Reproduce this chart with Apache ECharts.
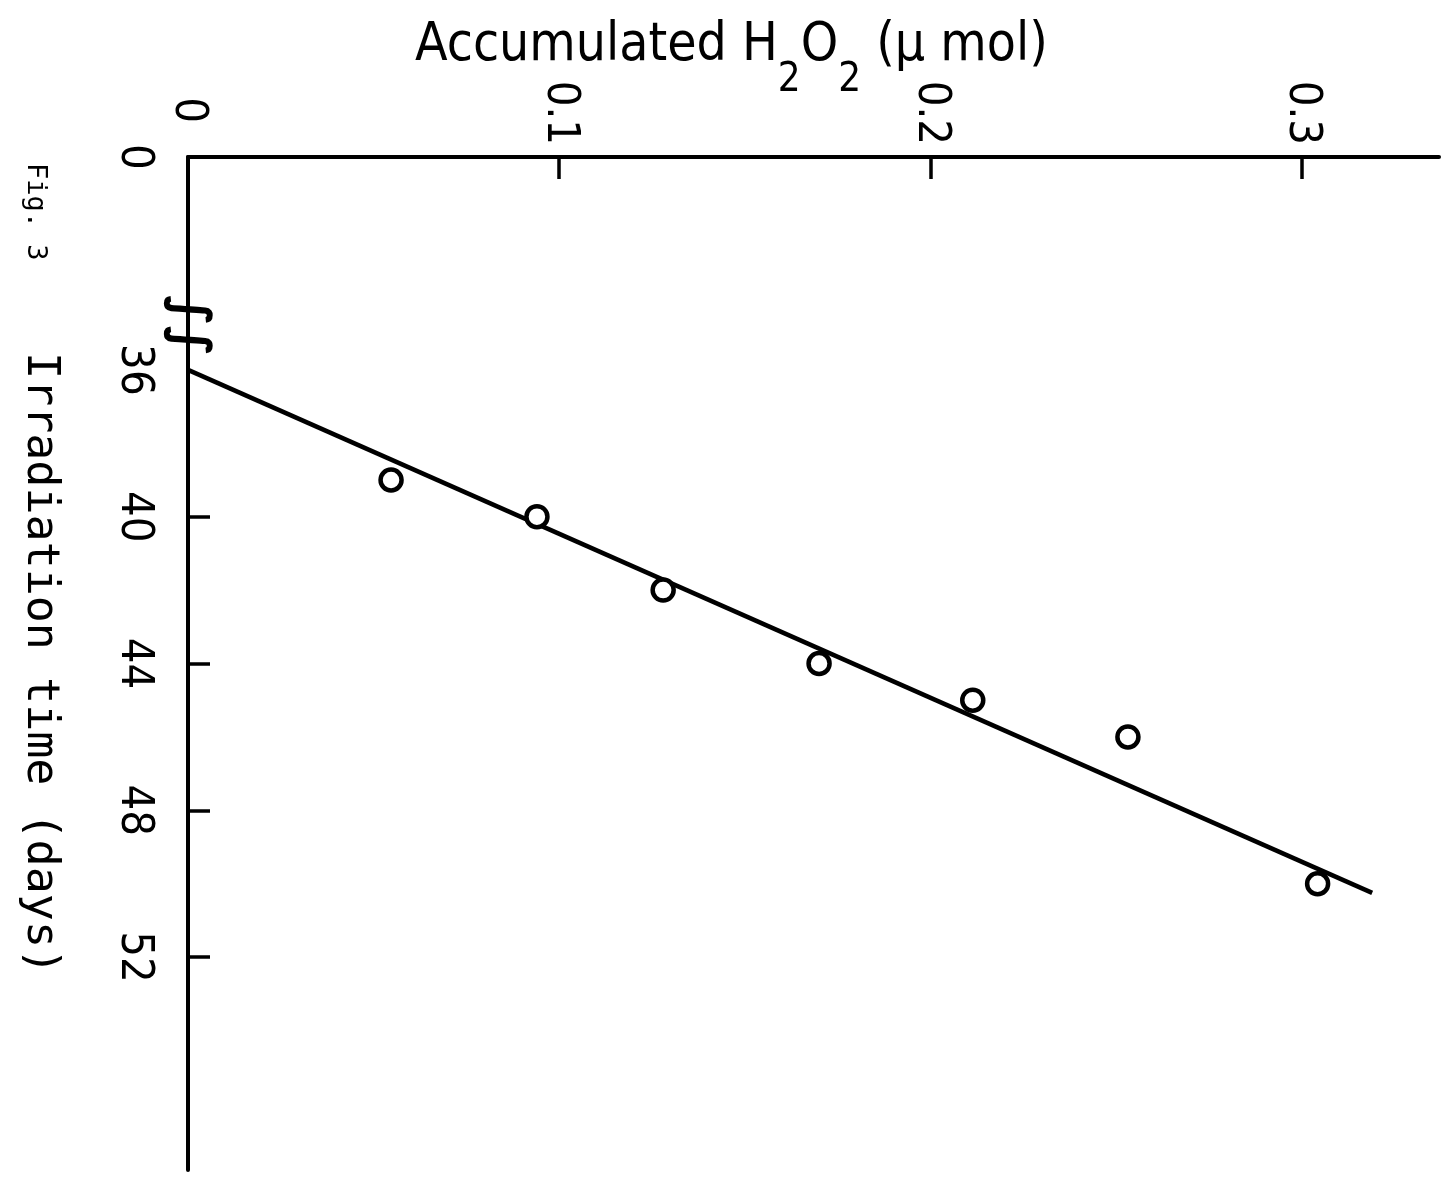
<!DOCTYPE html>
<html>
<head>
<meta charset="utf-8">
<script src="https://cdn.jsdelivr.net/npm/echarts@6/dist/echarts.min.js"></script>
<style>
  html, body { margin: 0; padding: 0; background: #fff; }
  #chart { width: 1449px; height: 1184px; }
</style>
</head>
<body>
<div id="chart"></div>
<script>
// measured points: accumulated H2O2 (µmol) against irradiation time (days)
const h2o2 = [0.0547, 0.094, 0.128, 0.170, 0.2114, 0.2532, 0.3043];
const days = [39, 40, 42, 44, 45, 46, 50];
// fitted straight line, end points
const fitH2o2 = [0, 0.319];
const fitDays = [36, 50.25];
// axes
const h2o2Labels = [0, 0.1, 0.2, 0.3];
const h2o2Ticks = [0.1, 0.2, 0.3];
const dayLabels = [0, 36, 40, 44, 48, 52];
const dayTicks = [40, 44, 48, 52];
const dayBreak = [4.6, 34.8];

var labelFont = '"Liberation Sans Narrow", "DejaVu Sans Condensed", sans-serif';
var titleFont = '"DejaVu Sans Condensed", sans-serif';

var option = {
    backgroundColor: '#fff',
    animation: false,
    title: {
        text: '{m|Accumulated H}{sub|2}{m|O}{sub|2}{m| (µ mol)}',
        left: 415,
        top: 20,
        padding: 0,
        textStyle: {
            fontWeight: 'normal',
            rich: {
                m: {
                    fontFamily: titleFont,
                    fontWeight: 'normal',
                    fontSize: 53,
                    lineHeight: 60,
                    verticalAlign: 'top',
                    color: '#000'
                },
                sub: {
                    fontFamily: titleFont,
                    fontWeight: 'normal',
                    fontSize: 40,
                    lineHeight: 40,
                    verticalAlign: 'top',
                    padding: [41, 0, 0, 0],
                    color: '#000'
                }
            }
        }
    },
    graphic: [{
        type: 'text',
        x: 49,
        y: 163,
        rotation: -Math.PI / 2,
        style: {
            text: 'Fig. 3',
            font: '27px "DejaVu Sans Mono"',
            fill: '#000',
            verticalAlign: 'top',
            align: 'left'
        }
    }],
    grid: {
        left: 188,
        right: 10,
        top: 157,
        bottom: 14,
        outerBoundsMode: 'none'
    },
    xAxis: {
        type: 'value',
        position: 'top',
        min: 0,
        max: 0.337,
        splitLine: { show: false },
        axisLine: { lineStyle: { color: '#000', width: 4 } },
        axisTick: {
            inside: true,
            length: 22,
            customValues: h2o2Ticks,
            lineStyle: { color: '#000', width: 3.5 }
        },
        axisLabel: {
            customValues: h2o2Labels,
            rotate: -90,
            margin: 12,
            fontFamily: labelFont,
            fontSize: 45,
            color: '#000',
            formatter: function(v) {
                return v === 0 ? '{z|0}' : String(v);
            },
            rich: {
                z: { fontFamily: labelFont, fontSize: 45, color: '#000', padding: [0, 22, 0, 0] }
            }
        }
    },
    yAxis: {
        type: 'value',
        inverse: true,
        min: 0,
        max: 57.8,
        breaks: [{ start: dayBreak[0], end: dayBreak[1], gap: 0 }],
        breakArea: { show: false },
        name: 'Irradiation time (days)',
        nameLocation: 'middle',
        nameRotate: -90,
        nameGap: 126,
        nameTextStyle: {
            fontFamily: '"DejaVu Sans Mono", monospace',
            fontSize: 45,
            color: '#000'
        },
        splitLine: { show: false },
        axisLine: { lineStyle: { color: '#000', width: 4 } },
        axisTick: {
            inside: true,
            length: 22,
            customValues: dayTicks,
            lineStyle: { color: '#000', width: 3.5 }
        },
        axisLabel: {
            customValues: dayLabels,
            rotate: -90,
            margin: 32,
            fontFamily: labelFont,
            fontSize: 45,
            color: '#000'
        }
    },
    series: [{
        type: 'line',
        data: fitH2o2.map(function(x, i) { return [x, fitDays[i]]; }),
        showSymbol: false,
        lineStyle: { color: '#000', width: 4.5 },
        markPoint: {
            symbol: 'circle',
            symbolSize: 1,
            itemStyle: { color: 'rgba(0,0,0,0)' },
            label: {
                show: true,
                formatter: '∫∫',
                rotate: -90,
                position: 'inside',
                fontFamily: '"DejaVu Sans", sans-serif',
                fontWeight: 'bold',
                fontSize: 50,
                color: '#000'
            },
            data: [{ coord: [0, dayBreak[0]] }]
        }
    }, {
        type: 'scatter',
        data: h2o2.map(function(x, i) { return [x, days[i]]; }),
        symbol: 'circle',
        symbolSize: 21,
        itemStyle: { color: '#fff', borderColor: '#000', borderWidth: 4.5, opacity: 1 },
        z: 3
    }]
};

var myChart = echarts.init(document.getElementById('chart'));
myChart.setOption(option);
</script>
</body>
</html>
